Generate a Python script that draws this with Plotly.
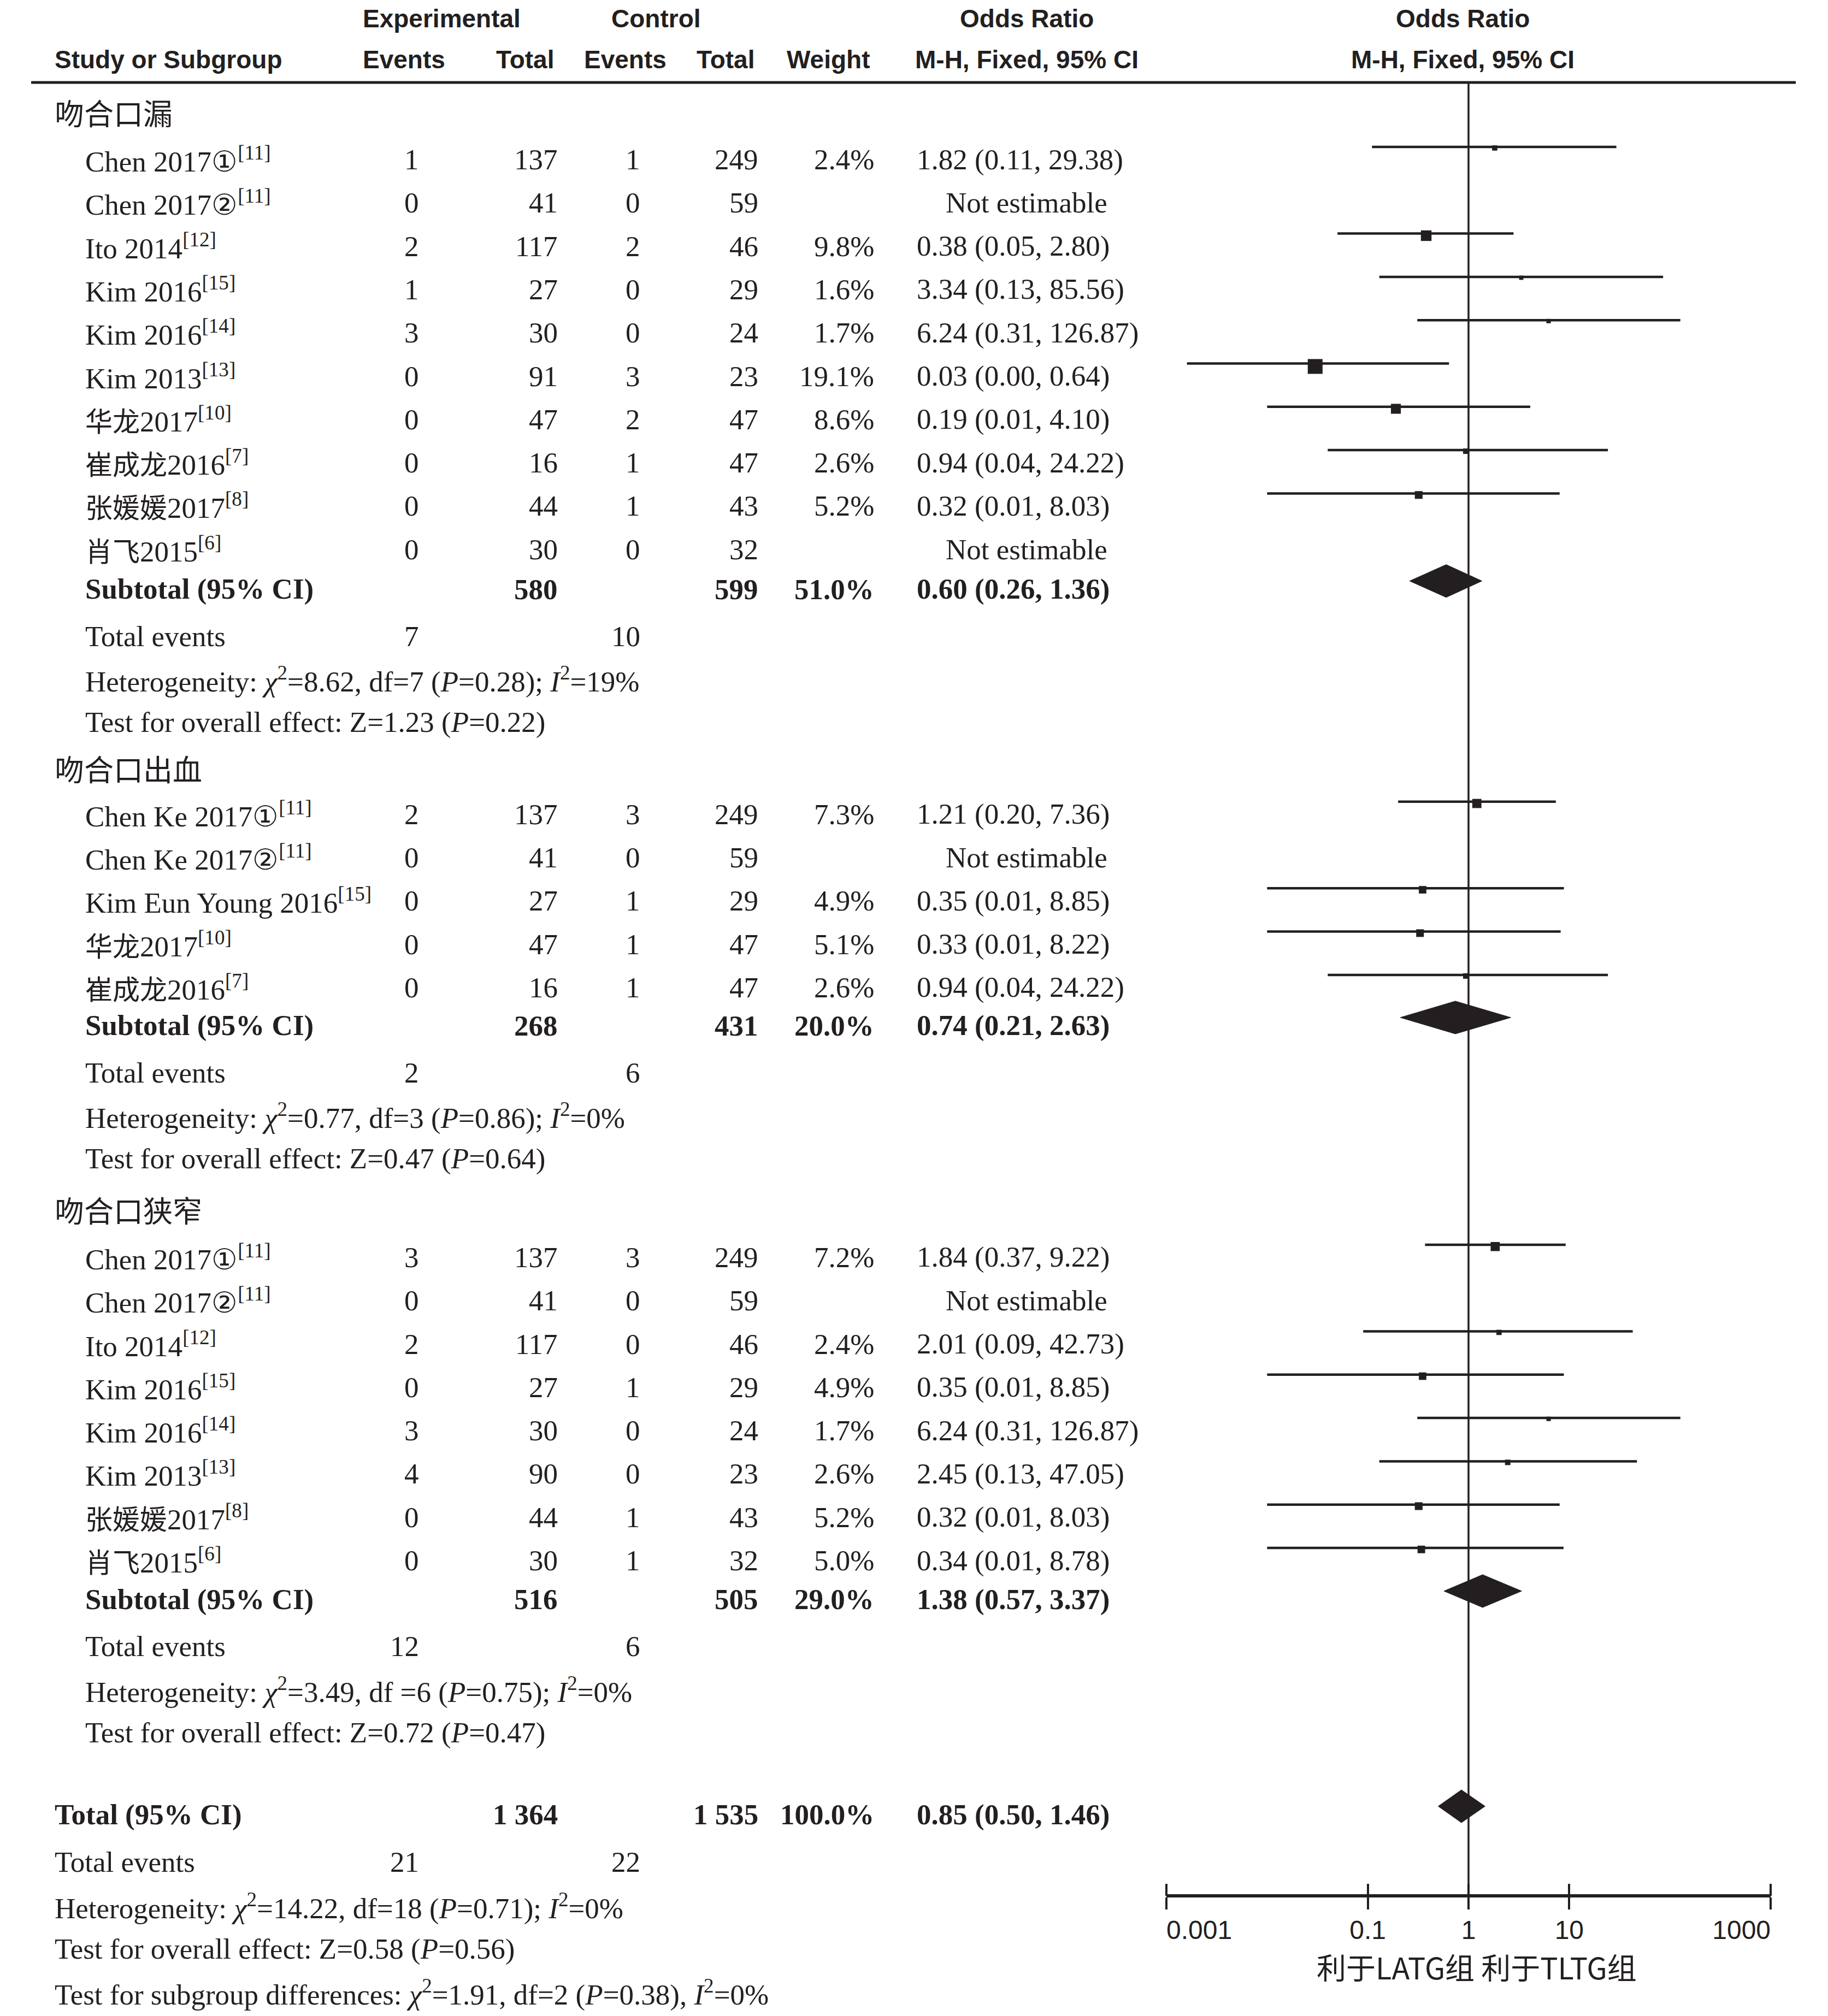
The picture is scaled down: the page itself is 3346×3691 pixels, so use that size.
import math
import plotly.graph_objects as go

W, H = 3346, 3691
OFF = 8  # page body margin compensation
INK = "#231f20"
SERIF = "Liberation Serif, Times New Roman, serif"
SANS = "Liberation Sans, Arial, sans-serif"
CJK = "Noto Sans CJK SC, sans-serif"
FS = 53

# ---------------- data ----------------
group_titles = ["吻合口漏", "吻合口出血", "吻合口狭窄"]

g1_names = ["Chen 2017①", "Chen 2017②", "Ito 2014", "Kim 2016", "Kim 2016", "Kim 2013",
            "华龙2017", "崔成龙2016", "张媛媛2017", "肖飞2015"]
g1_refs = ["11", "11", "12", "15", "14", "13", "10", "7", "8", "6"]
g1_exp_events = [1, 0, 2, 1, 3, 0, 0, 0, 0, 0]
g1_exp_total = [137, 41, 117, 27, 30, 91, 47, 16, 44, 30]
g1_ctl_events = [1, 0, 2, 0, 0, 3, 2, 1, 1, 0]
g1_ctl_total = [249, 59, 46, 29, 24, 23, 47, 47, 43, 32]
g1_weight = [2.4, None, 9.8, 1.6, 1.7, 19.1, 8.6, 2.6, 5.2, None]
g1_or = [1.82, None, 0.38, 3.34, 6.24, 0.03, 0.19, 0.94, 0.32, None]
g1_lo = [0.11, None, 0.05, 0.13, 0.31, 0.0016, 0.01, 0.04, 0.01, None]
g1_hi = [29.38, None, 2.80, 85.56, 126.87, 0.64, 4.10, 24.22, 8.03, None]
g1_ci_text = ["1.82 (0.11, 29.38)", "Not estimable", "0.38 (0.05, 2.80)", "3.34 (0.13, 85.56)",
              "6.24 (0.31, 126.87)", "0.03 (0.00, 0.64)", "0.19 (0.01, 4.10)", "0.94 (0.04, 24.22)",
              "0.32 (0.01, 8.03)", "Not estimable"]

g2_names = ["Chen Ke 2017①", "Chen Ke 2017②", "Kim Eun Young 2016", "华龙2017", "崔成龙2016"]
g2_refs = ["11", "11", "15", "10", "7"]
g2_exp_events = [2, 0, 0, 0, 0]
g2_exp_total = [137, 41, 27, 47, 16]
g2_ctl_events = [3, 0, 1, 1, 1]
g2_ctl_total = [249, 59, 29, 47, 47]
g2_weight = [7.3, None, 4.9, 5.1, 2.6]
g2_or = [1.21, None, 0.35, 0.33, 0.94]
g2_lo = [0.20, None, 0.01, 0.01, 0.04]
g2_hi = [7.36, None, 8.85, 8.22, 24.22]
g2_ci_text = ["1.21 (0.20, 7.36)", "Not estimable", "0.35 (0.01, 8.85)", "0.33 (0.01, 8.22)",
              "0.94 (0.04, 24.22)"]

g3_names = ["Chen 2017①", "Chen 2017②", "Ito 2014", "Kim 2016", "Kim 2016", "Kim 2013",
            "张媛媛2017", "肖飞2015"]
g3_refs = ["11", "11", "12", "15", "14", "13", "8", "6"]
g3_exp_events = [3, 0, 2, 0, 3, 4, 0, 0]
g3_exp_total = [137, 41, 117, 27, 30, 90, 44, 30]
g3_ctl_events = [3, 0, 0, 1, 0, 0, 1, 1]
g3_ctl_total = [249, 59, 46, 29, 24, 23, 43, 32]
g3_weight = [7.2, None, 2.4, 4.9, 1.7, 2.6, 5.2, 5.0]
g3_or = [1.84, None, 2.01, 0.35, 6.24, 2.45, 0.32, 0.34]
g3_lo = [0.37, None, 0.09, 0.01, 0.31, 0.13, 0.01, 0.01]
g3_hi = [9.22, None, 42.73, 8.85, 126.87, 47.05, 8.03, 8.78]
g3_ci_text = ["1.84 (0.37, 9.22)", "Not estimable", "2.01 (0.09, 42.73)", "0.35 (0.01, 8.85)",
              "6.24 (0.31, 126.87)", "2.45 (0.13, 47.05)", "0.32 (0.01, 8.03)", "0.34 (0.01, 8.78)"]

sub_exp_total = ["580", "268", "516"]
sub_ctl_total = ["599", "431", "505"]
sub_weight = ["51.0%", "20.0%", "29.0%"]
sub_or = [0.60, 0.74, 1.38]
sub_lo = [0.26, 0.21, 0.57]
sub_hi = [1.36, 2.63, 3.37]
sub_ci_text = ["0.60 (0.26, 1.36)", "0.74 (0.21, 2.63)", "1.38 (0.57, 3.37)"]
sub_exp_events = [7, 2, 12]
sub_ctl_events = [10, 6, 6]
sub_het = ["<i>χ</i><sup>2</sup>=8.62, df=7 (<i>P</i>=0.28); <i>I</i><sup>2</sup>=19%",
           "<i>χ</i><sup>2</sup>=0.77, df=3 (<i>P</i>=0.86); <i>I</i><sup>2</sup>=0%",
           "<i>χ</i><sup>2</sup>=3.49, df =6 (<i>P</i>=0.75); <i>I</i><sup>2</sup>=0%"]
sub_z = ["Z=1.23 (<i>P</i>=0.22)", "Z=0.47 (<i>P</i>=0.64)", "Z=0.72 (<i>P</i>=0.47)"]

tot_exp_total = "1 364"
tot_ctl_total = "1 535"
tot_weight = "100.0%"
tot_or, tot_lo, tot_hi = 0.85, 0.50, 1.46
tot_ci_text = "0.85 (0.50, 1.46)"
tot_exp_events, tot_ctl_events = 21, 22
tot_het = "<i>χ</i><sup>2</sup>=14.22, df=18 (<i>P</i>=0.71); <i>I</i><sup>2</sup>=0%"
tot_z = "Z=0.58 (<i>P</i>=0.56)"
tot_sub = "<i>χ</i><sup>2</sup>=1.91, df=2 (<i>P</i>=0.38), <i>I</i><sup>2</sup>=0%"

tick_vals = [0.001, 0.1, 1, 10, 1000]
tick_text = ["0.001", "0.1", "1", "10", "1000"]
axis_label = "利于LATG组 利于TLTG组"

groups = [
    dict(names=g1_names, refs=g1_refs, ee=g1_exp_events, et=g1_exp_total, ce=g1_ctl_events,
         ct=g1_ctl_total, w=g1_weight, orr=g1_or, lo=g1_lo, hi=g1_hi, txt=g1_ci_text),
    dict(names=g2_names, refs=g2_refs, ee=g2_exp_events, et=g2_exp_total, ce=g2_ctl_events,
         ct=g2_ctl_total, w=g2_weight, orr=g2_or, lo=g2_lo, hi=g2_hi, txt=g2_ci_text),
    dict(names=g3_names, refs=g3_refs, ee=g3_exp_events, et=g3_exp_total, ce=g3_ctl_events,
         ct=g3_ctl_total, w=g3_weight, orr=g3_or, lo=g3_lo, hi=g3_hi, txt=g3_ci_text),
]

# ---------------- layout geometry (page pixels) ----------------
X_GROUP = 99
X_NAME = 155
X_EE = 768      # right edge
X_ET = 1022     # right edge
X_CE = 1173     # right edge
X_CT = 1389     # right edge
X_W = 1601      # right edge
X_OR = 1677     # left edge
X_NE = 1879     # center
AX_Y = 3471
TOP_RULE = 151
PLOT_L, PLOT_R = 2135, 3241
STEP = 79.3
HEADER_GAP = [0, 84, 93]
FIRST_STUDY_GAP = [87, 84, 87]
SUB_GAP = [73, 70, 71]


def xp(px):
    return (px - OFF) / W


fig = go.Figure()


def is_cjk(ch):
    return '\u4e00' <= ch <= '\u9fff'


def name_html(s):
    out, buf = "", ""
    for ch in s + " ":
        if is_cjk(ch):
            buf += ch
        else:
            if buf:
                out += '<span style="font-family:Noto Sans CJK SC;font-size:50px">' + buf + '</span>'
                buf = ""
            out += ch
    return out[:-1]


def txt(x, y, s, anchor="left", family=SERIF, size=FS, weight="normal"):
    fig.add_annotation(x=xp(x), y=y, xref="paper", yref="y", text=s, showarrow=False,
                       xanchor=anchor, yanchor="middle", align=anchor, borderpad=0,
                       font=dict(family=family, size=size, color=INK, weight=weight))


HF, HS = SANS, 46
HY1, HY2 = 34, 109
txt(808, HY1, "Experimental", "center", HF, HS, "bold")
txt(1201, HY1, "Control", "center", HF, HS, "bold")
txt(1879, HY1, "Odds Ratio", "center", HF, HS, "bold")
txt(2677, HY1, "Odds Ratio", "center", HF, HS, "bold")
txt(X_GROUP, HY2, "Study or Subgroup", "left", HF, HS, "bold")
txt(739, HY2, "Events", "center", HF, HS, "bold")
txt(961, HY2, "Total", "center", HF, HS, "bold")
txt(1144, HY2, "Events", "center", HF, HS, "bold")
txt(1328, HY2, "Total", "center", HF, HS, "bold")
txt(1516, HY2, "Weight", "center", HF, HS, "bold")
txt(1879, HY2, "M-H, Fixed, 95% CI", "center", HF, HS, "bold")
txt(2677, HY2, "M-H, Fixed, 95% CI", "center", HF, HS, "bold")

ci_x, ci_y = [], []
sq_x, sq_y, sq_s = [], [], []
diamonds = []

y = 205.0
for gi, g in enumerate(groups):
    y += HEADER_GAP[gi]
    txt(X_GROUP, y, group_titles[gi], "left", CJK, 54)
    y += FIRST_STUDY_GAP[gi]
    n = len(g["names"])
    for i in range(n):
        ry = y + i * STEP
        txt(X_NAME, ry, name_html(g["names"][i]) + "<sup>[" + g["refs"][i] + "]</sup>")
        txt(X_EE, ry, str(g["ee"][i]), "right")
        txt(X_ET, ry, str(g["et"][i]), "right")
        txt(X_CE, ry, str(g["ce"][i]), "right")
        txt(X_CT, ry, str(g["ct"][i]), "right")
        if g["w"][i] is None:
            txt(X_NE, ry, g["txt"][i], "center")
        else:
            txt(X_W, ry, f"{g['w'][i]:.1f}%", "right")
            txt(X_OR, ry, g["txt"][i], "left")
            ly = ry - 23
            ci_x += [g["lo"][i], g["hi"][i], None]
            ci_y += [ly, ly, None]
            s = 6.2 * math.sqrt(g["w"][i])
            sq_x.append(g["orr"][i])
            sq_y.append(ly + 0.2 * s)
            sq_s.append(s)
    y = y + (n - 1) * STEP + SUB_GAP[gi]
    txt(X_NAME, y, "<b>Subtotal (95% CI)</b>")
    txt(X_ET, y, "<b>" + sub_exp_total[gi] + "</b>", "right")
    txt(X_CT, y, "<b>" + sub_ctl_total[gi] + "</b>", "right")
    txt(X_W, y, "<b>" + sub_weight[gi] + "</b>", "right")
    txt(X_OR, y, "<b>" + sub_ci_text[gi] + "</b>", "left")
    diamonds.append((sub_lo[gi], sub_or[gi], sub_hi[gi], y - 15))
    y += 86
    txt(X_NAME, y, "Total events")
    txt(X_EE, y, str(sub_exp_events[gi]), "right")
    txt(X_CE, y, str(sub_ctl_events[gi]), "right")
    y += 80
    txt(X_NAME, y, "Heterogeneity: " + sub_het[gi])
    y += 78
    txt(X_NAME, y, "Test for overall effect: " + sub_z[gi])

y += 150
txt(X_GROUP, y, "<b>Total (95% CI)</b>")
txt(X_ET, y, "<b>" + tot_exp_total + "</b>", "right")
txt(X_CT, y, "<b>" + tot_ctl_total + "</b>", "right")
txt(X_W, y, "<b>" + tot_weight + "</b>", "right")
txt(X_OR, y, "<b>" + tot_ci_text + "</b>", "left")
diamonds.append((tot_lo, tot_or, tot_hi, y - 15))
y += 87
txt(X_GROUP, y, "Total events")
txt(X_EE, y, str(tot_exp_events), "right")
txt(X_CE, y, str(tot_ctl_events), "right")
y += 81
txt(X_GROUP, y, "Heterogeneity: " + tot_het)
y += 78
txt(X_GROUP, y, "Test for overall effect: " + tot_z)
y += 80
txt(X_GROUP, y, "Test for subgroup differences: " + tot_sub)

# reference line at OR = 1 (on overlay axis so that axis gets drawn)
fig.add_trace(go.Scatter(x=[1, 1], y=[TOP_RULE, AX_Y], mode="lines", xaxis="x2", yaxis="y",
                         line=dict(color=INK, width=3.5), hoverinfo="skip", showlegend=False))

# CI lines
fig.add_trace(go.Scatter(x=ci_x, y=ci_y, mode="lines", line=dict(color=INK, width=4.5),
                         hoverinfo="skip", showlegend=False))
# squares
fig.add_trace(go.Scatter(x=sq_x, y=sq_y, mode="markers",
                         marker=dict(symbol="square", size=sq_s, color=INK, opacity=1,
                                     line=dict(width=0)),
                         hoverinfo="skip", showlegend=False))
# diamonds
for lo, est, hi, cy in diamonds:
    fig.add_trace(go.Scatter(x=[lo, est, hi, est, lo], y=[cy, cy - 30, cy, cy + 30, cy],
                             mode="lines", fill="toself", fillcolor=INK,
                             line=dict(color=INK, width=1), hoverinfo="skip", showlegend=False))

# top rule
fig.add_shape(type="line", xref="paper", yref="y", x0=xp(57), x1=xp(3287),
              y0=TOP_RULE, y1=TOP_RULE, line=dict(color=INK, width=5))

# axis label
txt(2703, 3600, axis_label, "center", CJK, 54)

# edge tick labels aligned to their ticks like the original (first left, last right)
TFS = 48
NB = "\u00a0"
tick_disp = list(tick_text)
tick_disp[0] = NB * 9 + tick_disp[0]
tick_disp[-1] = tick_disp[-1] + NB * 8

pos = (H - AX_Y + OFF) / H
fig.update_layout(
    width=W, height=H,
    margin=dict(l=0, r=0, t=0, b=0, pad=0, autoexpand=False),
    paper_bgcolor="white", plot_bgcolor="white",
    showlegend=False,
    xaxis=dict(type="log", range=[-3, 3], domain=[xp(PLOT_L), xp(PLOT_R)],
               anchor="free", position=pos, automargin=False,
               showline=True, linecolor=INK, linewidth=6,
               ticks="outside", ticklen=22, tickwidth=4, tickcolor=INK,
               tickmode="array", tickvals=tick_vals, ticktext=tick_disp,
               tickfont=dict(family=SANS, size=TFS, color=INK), ticklabelstandoff=-4,
               showgrid=False, zeroline=False, fixedrange=True),
    xaxis2=dict(type="log", range=[-3, 3], overlaying="x", anchor="free", position=pos,
                automargin=False, side="top", showline=False, ticks="outside", ticklen=22,
                tickwidth=4, tickcolor=INK, tickmode="array", tickvals=tick_vals,
                showticklabels=False, showgrid=False, zeroline=False, fixedrange=True),
    yaxis=dict(range=[H + OFF, OFF], domain=[0, 1], visible=False, showgrid=False,
               zeroline=False, fixedrange=True, automargin=False),
)

fig.write_html("out.html")
